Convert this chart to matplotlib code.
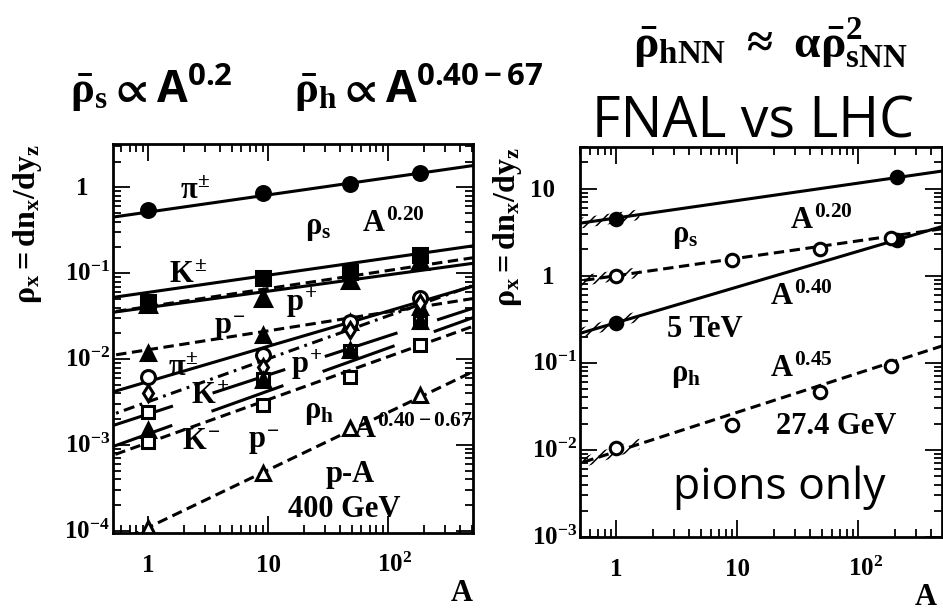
import numpy as np
import matplotlib.pyplot as plt
from matplotlib.ticker import LogLocator, NullFormatter

# ROOT-like look: bold Times for all math, a plain sans for the headline text
plt.rcParams['mathtext.fontset'] = 'custom'
plt.rcParams['mathtext.rm'] = 'Liberation Serif:bold'
plt.rcParams['mathtext.it'] = 'Liberation Serif:bold'
plt.rcParams['mathtext.bf'] = 'Liberation Serif:bold'
plt.rcParams['mathtext.sf'] = 'Open Sans'
plt.rcParams['mathtext.fallback'] = 'stix'
plt.rcParams['font.family'] = 'Liberation Serif'
plt.rcParams['font.weight'] = 'bold'
plt.rcParams['lines.scale_dashes'] = False
plt.rcParams['hatch.linewidth'] = 1.1

# targets: H, Be, Ti, W (400 GeV / 27.4 GeV) and pp, Pb (5 TeV)
A_fnal = [1, 9, 48, 184]
A_lhc = [1, 208]

# 400 GeV p-A, soft part rho_s
pi_s = [0.54, 0.85, 1.11, 1.49]
k_s = [0.046, 0.088, 0.103, 0.162]
p_s = [0.044, 0.052, 0.083, 0.14]
pbar_s = [0.0117, 0.019, 0.027, 0.041]
# hard part rho_h
pi_h = [0.0062, 0.0111, 0.027, 0.052]
kp_h = [0.0041, 0.0081, 0.022, 0.045]
kplus_h = [0.0024, 0.0059, 0.0126, 0.027]
p_h = [0.0015, 0.0057, 0.0127, 0.028]
kminus_h = [0.00108, 0.0029, 0.0062, 0.0145]
pbar_h = [1.1e-4, 4.7e-4, 1.6e-3, 3.8e-3]

# power law fits: (value at A=1, exponent)
fit_pi_s = (0.516, 0.20)
fit_k_s = (0.060, 0.20)
fit_p_s = (0.041, 0.21)
fit_k_s2 = (0.040, 0.19)
fit_pbar_s = (0.0129, 0.22)
fit_pi_h = (0.0055, 0.41)
fit_kp_h = (0.0032, 0.50)
fit_kplus_h = (0.0023, 0.455)
fit_p_h = (0.00135, 0.50)
fit_kminus_h = (0.00107, 0.50)
fit_pbar_h = (1.1e-4, 0.67)

# pions only: 5 TeV (LHC) and 27.4 GeV (FNAL)
lhc_s = [4.5, 13.4]
lhc_h = [0.284, 2.54]
fnal_s = [1.0, 1.53, 2.05, 2.74]
fnal_h = [0.0104, 0.0192, 0.046, 0.093]
fit_lhc_s = (4.6, 0.20)
fit_lhc_h = (0.289, 0.41)
fit_fnal_s = (1.0, 0.20)
fit_fnal_h = (0.0096, 0.45)

xticks = [1, 10, 100]
xtick_labels = ['1', '10', r'$10^{2}$']
yticks_left = [1, 0.1, 0.01, 0.001, 0.0001]
ylabels_left = ['1', r'$10^{-1}$', r'$10^{-2}$', r'$10^{-3}$', r'$10^{-4}$']
yticks_right = [10, 1, 0.1, 0.01, 0.001]
ylabels_right = ['10', '1', r'$10^{-1}$', r'$10^{-2}$', r'$10^{-3}$']

W, H = 943, 611
fig = plt.figure(figsize=(W / 100, H / 100), dpi=100)


def frame(l, t, r, b):
    return fig.add_axes([l / W, 1 - b / H, (r - l) / W, (b - t) / H])


def root_style(ax, xlim, ylim, yt, yl, ylab_dx, a_dx):
    ax.set_xscale('log')
    ax.set_yscale('log')
    ax.set_xlim(*xlim)
    ax.set_ylim(*ylim)
    for s in ax.spines.values():
        s.set_linewidth(2)
    for axis in (ax.xaxis, ax.yaxis):
        axis.set_major_locator(LogLocator(base=10, numticks=20))
        axis.set_minor_locator(LogLocator(base=10, subs=np.arange(2, 10), numticks=20))
        axis.set_minor_formatter(NullFormatter())
        axis.set_major_formatter(NullFormatter())
    ax.tick_params(which='both', direction='in', top=True, right=True, width=1.3)
    ax.tick_params(which='major', length=12)
    ax.tick_params(which='minor', length=6)
    for v, lab in zip(xticks, xtick_labels):
        dx = 7 if '^' in lab else 0
        ax.annotate(lab, xy=(v, 0), xycoords=('data', 'axes fraction'),
                    xytext=(dx, -39), textcoords='offset pixels',
                    ha='center', va='baseline', fontsize=18)
    for v, lab in zip(yt, yl):
        pad = 3 if '^' in lab else 25
        ax.annotate(lab, xy=(0, v), xycoords=('axes fraction', 'data'),
                    xytext=(-pad, -8), textcoords='offset pixels',
                    ha='right', va='baseline', fontsize=18)
    ax.annotate('A', xy=(1, 0), xycoords='axes fraction', xytext=(a_dx, -68),
                textcoords='offset pixels', ha='right', va='baseline', fontsize=22)
    ax.annotate(r'$\rho_{x} = dn_{x}/dy_{z}$', xy=(0, 1), xycoords='axes fraction',
                xytext=(ylab_dx, 0), textcoords='offset pixels', rotation=90,
                ha='center', va='top', fontsize=23)


xs = np.logspace(np.log10(0.4), np.log10(700), 60)


def fit_line(ax, fit, **kw):
    ax.plot(xs, fit[0] * xs ** fit[1], color='black', lw=2.2, **kw)


dash = dict(dashes=(7.5, 4))
dashdot = dict(dashes=(8, 4, 2, 4))
longdash = dict(dashes=(55, 30))

# ---- left panel: 400 GeV p-A ----
axL = frame(113, 144, 473, 533)
root_style(axL, (0.51, 510), (0.95e-4, 3.2), yticks_left, ylabels_left, -85, 0)

fit_line(axL, fit_pi_s)
fit_line(axL, fit_k_s)
fit_line(axL, fit_p_s, **dash)
fit_line(axL, fit_k_s2)
fit_line(axL, fit_pbar_s, **dash)
fit_line(axL, fit_pi_h)
fit_line(axL, fit_kp_h, **dashdot)
fit_line(axL, fit_kplus_h, **longdash)
fit_line(axL, fit_p_h, **longdash)
fit_line(axL, fit_kminus_h, **dash)
fit_line(axL, fit_pbar_h, **dash)

mk = dict(ls='none', color='black', mew=2.2)
axL.plot(A_fnal, pi_s, marker='o', ms=10, **mk)
axL.plot(A_fnal, p_s, marker='^', ms=11, **mk)
axL.plot(A_fnal, k_s, marker='s', ms=10, **mk)
axL.plot(A_fnal, pbar_s, marker='^', ms=10, **mk)
axL.plot(A_fnal, pi_h, marker='o', ms=10, mfc='white', **mk)
axL.plot(A_fnal, kp_h, marker='d', ms=8, mfc='white', **mk)
axL.plot(A_fnal, kplus_h, marker='s', ms=9, mfc='white', **mk)
axL.plot(A_fnal, p_h, marker='^', ms=10, **mk)
axL.plot(A_fnal, kminus_h, marker='s', ms=9, mfc='white', **mk)
axL.plot(A_fnal, pbar_h, marker='^', ms=10, mfc='white', **mk)

lab = dict(ha='center', va='center', fontsize=22)
axL.text(2.46, 0.90, r'$\pi^{\pm}$', **lab)
axL.text(26, 0.33, r'$\rho_{s}$', **lab)
axL.text(110, 0.37, r'$A^{0.20}$', **lab)
axL.text(2.15, 0.095, r'$K^{\pm}$', **lab)
axL.text(4.8, 0.023, r'$p^{-}$', **lab)
axL.text(19.2, 0.045, r'$p^{+}$', **lab)
axL.text(1.96, 0.0077, r'$\pi^{\pm}$', **lab)
axL.text(3.3, 0.0037, r'$K^{+}$', **lab)
axL.text(21, 0.0085, r'$p^{+}$', **lab)
axL.text(2.8, 0.00111, r'$K^{-}$', **lab)
axL.text(9.1, 0.00108, r'$p^{-}$', **lab)
axL.text(26.6, 0.0024, r'$\rho_{h}$', **lab)
axL.text(162, 0.0015, r'$A^{0.40-0.67}$', **lab)
axL.text(48, 4.5e-4, 'p-A', **lab)
axL.text(43, 1.8e-4, '400 GeV', **lab)

# ---- right panel: pions only, FNAL vs LHC ----
axR = frame(580, 147, 942, 537)
root_style(axR, (0.5, 490), (1e-3, 30), yticks_right, ylabels_right, -73, -5)

for fit in (fit_lhc_s, fit_lhc_h, fit_fnal_s, fit_fnal_h):
    band = np.array([0.5, 1.55])
    yc = fit[0] * band ** fit[1]
    axR.fill_between(band, yc / 1.15, yc * 1.15, facecolor='none',
                     edgecolor='black', hatch='///', linewidth=0)

fit_line(axR, fit_lhc_s)
fit_line(axR, fit_lhc_h)
fit_line(axR, fit_fnal_s, **dash)
fit_line(axR, fit_fnal_h, **dash)
axR.plot(A_lhc, lhc_s, marker='o', ms=9, **mk)
axR.plot(A_lhc, lhc_h, marker='o', ms=9, **mk)
axR.plot(A_fnal, fnal_s, marker='o', ms=9, mfc='white', **mk)
axR.plot(A_fnal, fnal_h, marker='o', ms=9, mfc='white', **mk)

axR.text(3.72, 2.82, r'$\rho_{s}$', **lab)
axR.text(49, 4.2, r'$A^{0.20}$', **lab)
axR.text(34, 0.56, r'$A^{0.40}$', **lab)
axR.text(5.4, 0.24, '5 TeV', **lab)
axR.text(3.72, 0.072, r'$\rho_{h}$', **lab)
axR.text(34, 0.084, r'$A^{0.45}$', **lab)
axR.text(65, 0.0187, '27.4 GeV', **lab)
axR.text(22, 0.0037, 'pions only', family='Open Sans', weight='normal',
         ha='center', va='center', fontsize=32)

# ---- headline text ----
fig.text(70 / W, 1 - 103 / H, r'$\bar{\rho}_{s}\mathsf{\propto A^{0.2}}$', fontsize=32,
         ha='left', va='baseline')
fig.text(294 / W, 1 - 103 / H, r'$\bar{\rho}_{h}\mathsf{\propto A^{0.40-67}}$', fontsize=32,
         ha='left', va='baseline')
fig.text(770 / W, 1 - 57 / H, r'$\bar{\rho}_{hNN}\ \approx\ \alpha\bar{\rho}^{2}_{sNN}$',
         fontsize=34, ha='center', va='baseline')
fig.text(753 / W, 1 - 137 / H, 'FNAL vs LHC', family='Open Sans', weight='normal',
         fontsize=40, ha='center', va='baseline')

fig.savefig('out.png', dpi=100)
